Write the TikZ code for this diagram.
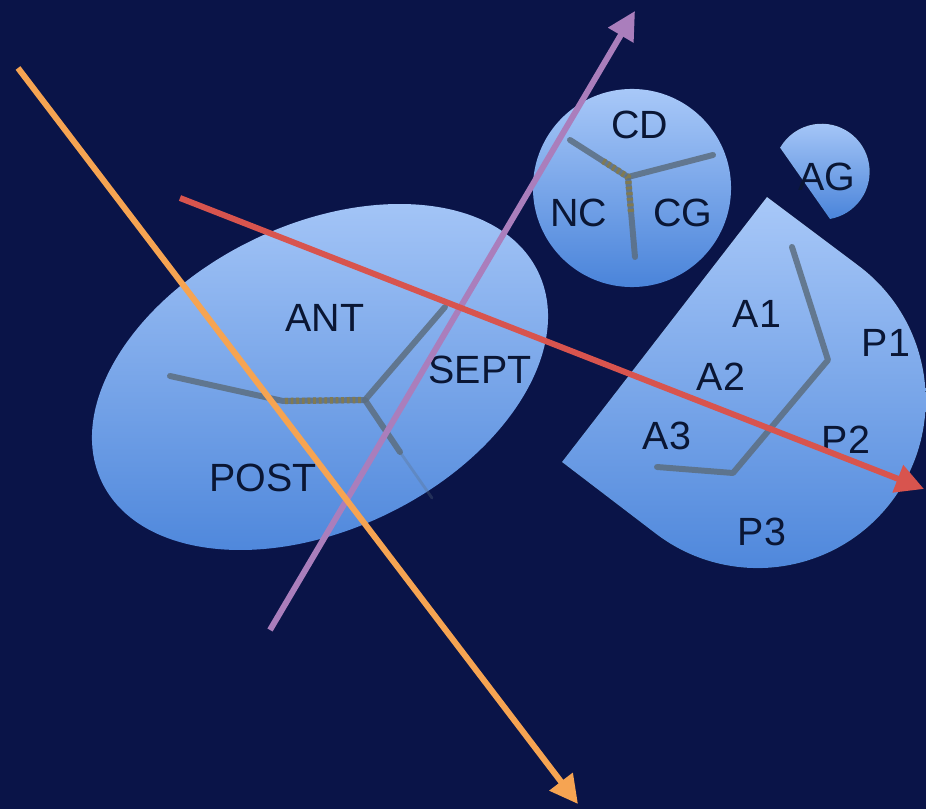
\documentclass[tikz,border=0pt]{standalone}
\usepackage{fontspec}
\setmainfont{Liberation Sans}
\usetikzlibrary{shapes.geometric, arrows.meta, positioning}
\definecolor{bgnavy}{RGB}{10,20,72}
\definecolor{valvelight}{RGB}{168,200,248}
\definecolor{valvedark}{RGB}{74,132,218}
\definecolor{seamgray}{RGB}{92,110,128}
\definecolor{seamolive}{RGB}{128,122,82}
\definecolor{labeltext}{RGB}{10,22,52}
\definecolor{beamorange}{RGB}{246,164,82}
\definecolor{beampurple}{RGB}{170,126,188}
\definecolor{beamred}{RGB}{216,84,78}
\tikzset{
    % Valves
    valve/.style={
        top color=valvelight,
        bottom color=valvedark,
        draw=none
    },
    % Commissures
    seam/.style={
        draw=seamgray,
        line width=1.7pt,
        line cap=round,
        line join=round,
        opacity=0.85
    },
    seamcore/.style={
        draw=seamolive,
        line width=1.8pt,
        dash pattern=on 0.8pt off 0.8pt
    },
    % Labels
    lbl/.style={
        font=\fontsize{11.2}{13}\selectfont,
        text=labeltext,
        inner sep=0pt
    },
    % Beams
    beam/.style={
        -{Triangle[length=8pt, width=8pt]},
        line width=1.7pt
    }
}

\begin{document}
\begin{tikzpicture}[x=0.01cm, y=-0.01cm]

    % Background
    \fill[bgnavy] (0,0) rectangle (926,809);
    \useasboundingbox (0,0) rectangle (926,809);

    % Tricuspid valve
    \node[valve, ellipse, inner sep=0pt, minimum width=4.84cm, minimum height=3.05cm, rotate=25.7] (tricuspid) at (320,377) {};

    % Aortic valve
    \node[valve, circle, inner sep=0pt, minimum size=1.98cm] (aortic) at (632,188) {};

    % Appendage
    \fill[valve] (830,219) arc[start angle=80, end angle=-150, radius=48] -- cycle;

    % Mitral valve
    \fill[valve] (767,197) -- (562,462) -- (655,533) arc[start angle=127.7, end angle=-52.3, radius=168] -- cycle;

    % Commissures
    \draw[seam] (170,376) -- (283,401) -- (365,400) -- (445,307);
    \draw[seam] (365,400) -- (400,452);
    \draw[seam, opacity=0.3, line width=0.8pt] (400,452) -- (432,498);
    \draw[seamcore] (285,401) -- (362,400);
    \draw[seam] (570,140) -- (628,177) -- (713,155);
    \draw[seam] (628,177) -- (635,257);
    \draw[seamcore] (603,161) -- (628,177) -- (631,212);
    \draw[seam] (792,247) -- (828,360) -- (733,473) -- (657,467);

    % Labels
    \node[lbl] (ant) at (325,318) {ANT};
    \node[lbl] (sept) at (480,370) {SEPT};
    \node[lbl] (post) at (263,478) {POST};
    \node[lbl] (cd) at (640,125) {CD};
    \node[lbl] (nc) at (579,213) {NC};
    \node[lbl] (cg) at (683,213) {CG};
    \node[lbl] (ag) at (827,177) {AG};
    \node[lbl] (aone) at (757,314) {A1};
    \node[lbl] (pone) at (886,343) {P1};
    \node[lbl] (atwo) at (721,377) {A2};
    \node[lbl] (athree) at (667,436) {A3};
    \node[lbl] (ptwo) at (846,440) {P2};
    \node[lbl] (pthree) at (762,532) {P3};

    % Beams
    \coordinate (purplestart) at (270,630);
    \coordinate (purpleend) at (635,11);
    \coordinate (redstart) at (180,198);
    \coordinate (redend) at (924,489);
    \coordinate (orangestart) at (18,68);
    \coordinate (orangeend) at (578,804);
    \draw[beam, beampurple] (purplestart) -- (purpleend);
    \draw[beam, beamred] (redstart) -- (redend);
    \draw[beam, beamorange] (orangestart) -- (orangeend);

\end{tikzpicture}
\end{document}
